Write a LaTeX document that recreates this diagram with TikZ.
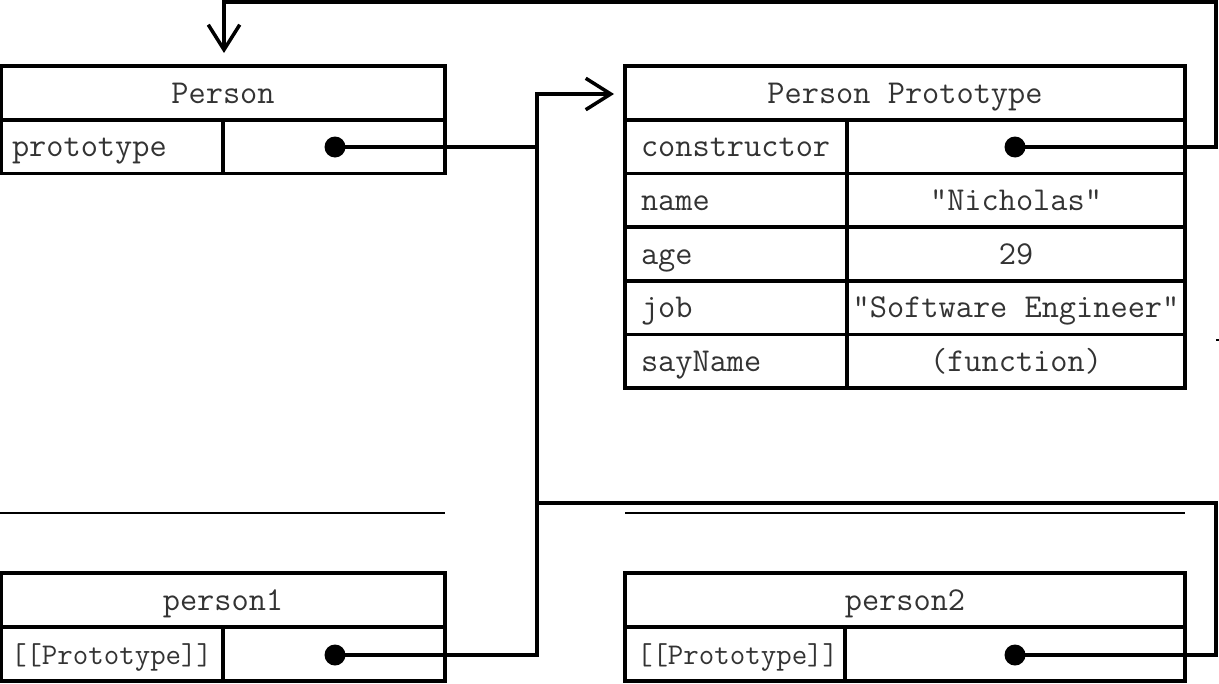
\documentclass[tikz,border=0pt]{standalone}
\usepackage{fontspec}
\usetikzlibrary{arrows.meta}

% one unit = one pixel of the drawing, y grows downwards
\tikzset{
  x=0.02cm, y=-0.02cm,
  txt/.style={font=\ttfamily\fontsize{19}{21}\selectfont, text=black!80},
  small/.style={font=\ttfamily\fontsize{17.1}{19}\selectfont, text=black!80},
  cell/.style={draw, line width=2pt, inner sep=0pt, txt,
               text height=11.4pt, text depth=0pt},
  head/.style={cell, minimum height=1.08cm},
  val/.style={cell, minimum height=1.072cm},
  key/.style={cell, minimum height=1.072cm, align=left},
  dot/.style={circle, fill=black, draw=none, inner sep=0pt, minimum size=0.42cm},
  wire/.style={line width=2pt},
  tip/.style={-{Straight Barb[length=0.5cm, width=0.63cm]}},
  edge/.style={line width=0.7pt},
}

\begin{document}
\begin{tikzpicture}
\useasboundingbox (0,0) rectangle (1219,683);

% ---------- Person ----------
\node[head, minimum width=8.88cm] (person) at (223,93) {Person};
\node[key, text width=4.0cm, inner xsep=0.22cm] (personK) at (112,146.5) {prototype};
\node[val, minimum width=4.44cm] (personV) at (334,146.5) {};
\node[dot] (dP) at (335,147) {};

% ---------- Person Prototype ----------
\node[head, minimum width=11.2cm] (proto) at (905,93) {Person Prototype};
\node[key, text width=3.8cm, inner xsep=0.32cm] (kCon) at (736,146.8) {constructor};
\node[val, minimum width=6.76cm] (vCon) at (1016,146.8) {};
\node[key, text width=3.8cm, inner xsep=0.32cm] (kName) at (736,200.4) {name};
\node[val, minimum width=6.76cm] (vName) at (1016,200.4) {"Nicholas"};
\node[key, text width=3.8cm, inner xsep=0.32cm] (kAge) at (736,254) {age};
\node[val, minimum width=6.76cm] (vAge) at (1016,254) {29};
\node[key, text width=3.8cm, inner xsep=0.32cm] (kJob) at (736,307.6) {job};
\node[val, minimum width=6.76cm] (vJob) at (1016,307.6) {"Software Engineer"};
\node[key, text width=3.8cm, inner xsep=0.32cm] (kSay) at (736,361.2) {sayName};
\node[val, minimum width=6.76cm] (vSay) at (1016,361.2) {(function)};
\node[dot] (dC) at (1015,147) {};

% ---------- person1 ----------
\node[head, minimum width=8.88cm] (p1) at (223,600) {person1};
\node[key, small, text width=4.04cm, inner xsep=0.2cm, minimum height=1.08cm] (p1K) at (112,654) {[[Prototype]]};
\node[val, minimum width=4.44cm, minimum height=1.08cm] (p1V) at (334,654) {};
\node[dot] (d1) at (335,655) {};

% ---------- person2 ----------
\node[head, minimum width=11.2cm] (p2) at (905,600) {person2};
\node[key, small, text width=3.92cm, inner xsep=0.24cm, minimum height=1.08cm] (p2K) at (735,654) {[[Prototype]]};
\node[val, minimum width=6.8cm, minimum height=1.08cm] (p2V) at (1015,654) {};
\node[dot] (d2) at (1015,655) {};

% ---------- routing points ----------
\coordinate (topR) at (1216,2);
\coordinate (topL) at (224,2);
\coordinate (personIn) at (224,53);
\coordinate (busTop) at (537,94);
\coordinate (protoIn) at (614,94);
\coordinate (midR) at (1216,503);
\coordinate (midL) at (537,503);

% ---------- pointers ----------
\draw[wire, tip] (dC.center) -| (topR) -- (topL) -- (personIn);
\draw[wire, tip] (dP.center) -| (busTop) -- (protoIn);
\draw[wire] (d1.center) -| (busTop);
\draw[wire] (d2.center) -| (midR) -- (midL);

% ---------- edges of neighbouring boxes ----------
\coordinate (e1a) at (0,513);   \coordinate (e1b) at (445,513);
\coordinate (e2a) at (625,513); \coordinate (e2b) at (1185,513);
\draw[edge] (e1a) -- (e1b);
\draw[edge] (e2a) -- (e2b);
\foreach \t in {445,537,625,847,1185} {
  \draw[edge] (\t,0) -- (\t,2);
}
\draw[edge] (1216,340) -- (1219,340);
\end{tikzpicture}
\end{document}
